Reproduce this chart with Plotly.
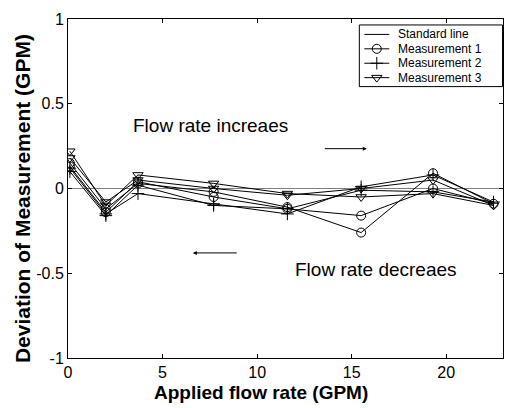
import plotly.graph_objects as go

# Applied flow rates (GPM) for one increasing pass, then the decreasing pass
flow_up = [0.1, 2.0, 3.7, 7.7, 11.6, 15.5, 19.3, 22.5]
flow_down = [19.3, 15.5, 11.6, 7.7, 3.7, 2.0, 0.1]

# Deviation of measurement (GPM)
m1_up = [0.15, -0.12, 0.03, -0.02, -0.11, -0.26, 0.09, -0.09]
m1_down = [0.00, -0.16, -0.12, -0.05, 0.04, -0.14, 0.13]
m2_up = [0.12, -0.15, -0.03, -0.09, -0.15, 0.01, 0.08, -0.08]
m2_down = [-0.02, -0.01, -0.12, -0.10, 0.02, -0.16, 0.10]
m3_up = [0.22, -0.10, 0.08, 0.03, -0.03, -0.05, -0.03, -0.10]
m3_down = [0.05, 0.00, -0.04, 0.00, 0.05, -0.08, 0.18]

std_x = [0, 23]
std_y = [0, 0]

x_ticks = [0, 5, 10, 15, 20]
y_ticks = [-1, -0.5, 0, 0.5, 1]
y_tick_text = ["-1", "-0.5", "0", "0.5", "1"]

legend_names = ["Standard line", "Measurement 1", "Measurement 2", "Measurement 3"]
legend_symbols = [None, "circle-open", "cross-thin-open", "triangle-down-open"]

FONT = "Arial, Liberation Sans, Helvetica, sans-serif"
flow_all = flow_up + flow_down

fig = go.Figure()
fig.add_trace(go.Scatter(x=std_x, y=std_y, mode="lines", showlegend=False,
                         line=dict(color="#808080", width=1)))
series = [
    (m1_up + m1_down, "circle-open"),
    (m2_up + m2_down, "cross-thin-open"),
    (m3_up + m3_down, "triangle-down-open"),
]
for vals, sym in series:
    fig.add_trace(go.Scatter(
        x=flow_all, y=vals, mode="lines+markers", showlegend=False,
        line=dict(color="black", width=1),
        marker=dict(symbol=sym, size=9, color="black",
                    line=dict(color="black", width=1)),
    ))

# Legend key drawn on an overlay axis measured in pixels from the plot's top-left
row_y = [15.5, 30, 44.5, 59]
key_x0, key_x1, key_mid, text_x = 297, 322, 309.5, 330
for i, (name, sym) in enumerate(zip(legend_names, legend_symbols)):
    fig.add_trace(go.Scatter(
        x=[key_x0, key_x1], y=[row_y[i], row_y[i]], xaxis="x2", yaxis="y2",
        mode="lines", showlegend=False, hoverinfo="skip",
        line=dict(color="black", width=1)))
    if sym:
        fig.add_trace(go.Scatter(
            x=[key_mid], y=[row_y[i]], xaxis="x2", yaxis="y2",
            mode="markers", showlegend=False, hoverinfo="skip",
            marker=dict(symbol=sym, size=9, color="black",
                        line=dict(color="black", width=1))))
    fig.add_annotation(x=text_x, y=row_y[i], xref="x2", yref="y2", text=name,
                       showarrow=False, xanchor="left", yanchor="middle",
                       borderpad=0, font=dict(family=FONT, size=12, color="black"))
fig.add_shape(type="rect", xref="x2", yref="y2", x0=292, x1=435.5, y0=6, y1=68,
              line=dict(color="black", width=1), fillcolor="white", layer="below")

axis_common = dict(
    showline=True, linecolor="black", linewidth=1, mirror="ticks",
    ticks="inside", ticklen=4, tickcolor="black", showgrid=False,
    zeroline=False, tickfont=dict(family=FONT, size=16, color="black"),
)
fig.update_xaxes(range=[0, 23], tickvals=x_ticks, **axis_common)
fig.update_yaxes(range=[-1, 1], tickvals=y_ticks, ticktext=y_tick_text, **axis_common)

fig.update_layout(
    xaxis2=dict(overlaying="x", anchor="y2", range=[0, 436], visible=False,
                fixedrange=True),
    yaxis2=dict(overlaying="y", anchor="x2", range=[341, 0], visible=False,
                fixedrange=True),
)

# Axis titles (paper coordinates are relative to the plotting area)
fig.add_annotation(x=0.4427, y=-0.1026, xref="paper", yref="paper",
                   text="<b>Applied flow rate (GPM)</b>", showarrow=False,
                   xanchor="center", yanchor="middle", borderpad=0,
                   font=dict(family=FONT, size=19, color="black"))
fig.add_annotation(x=-0.1055, y=0.469, xref="paper", yref="paper",
                   text="<b>Deviation of Measurement (GPM)</b>", showarrow=False,
                   textangle=-90, xanchor="center", yanchor="middle",
                   font=dict(family=FONT, size=21, color="black"))

text_font = dict(family=FONT, size=19, color="black")
fig.add_annotation(x=7.55, y=0.37, text="Flow rate increaes", showarrow=False, font=text_font)
fig.add_annotation(x=16.3, y=-0.48, text="Flow rate decreaes", showarrow=False, font=text_font)
fig.add_annotation(x=15.8, y=0.235, ax=13.5, ay=0.235, xref="x", yref="y", axref="x", ayref="y",
                   text="", showarrow=True, arrowhead=2, arrowsize=0.8, arrowwidth=1, arrowcolor="black")
fig.add_annotation(x=6.6, y=-0.38, ax=9.0, ay=-0.38, xref="x", yref="y", axref="x", ayref="y",
                   text="", showarrow=True, arrowhead=2, arrowsize=0.8, arrowwidth=1, arrowcolor="black")

fig.update_layout(
    width=515, height=408,
    margin=dict(l=68, r=11, t=17, b=50),
    paper_bgcolor="white", plot_bgcolor="white",
    showlegend=False,
)

fig.write_html("out.html")
